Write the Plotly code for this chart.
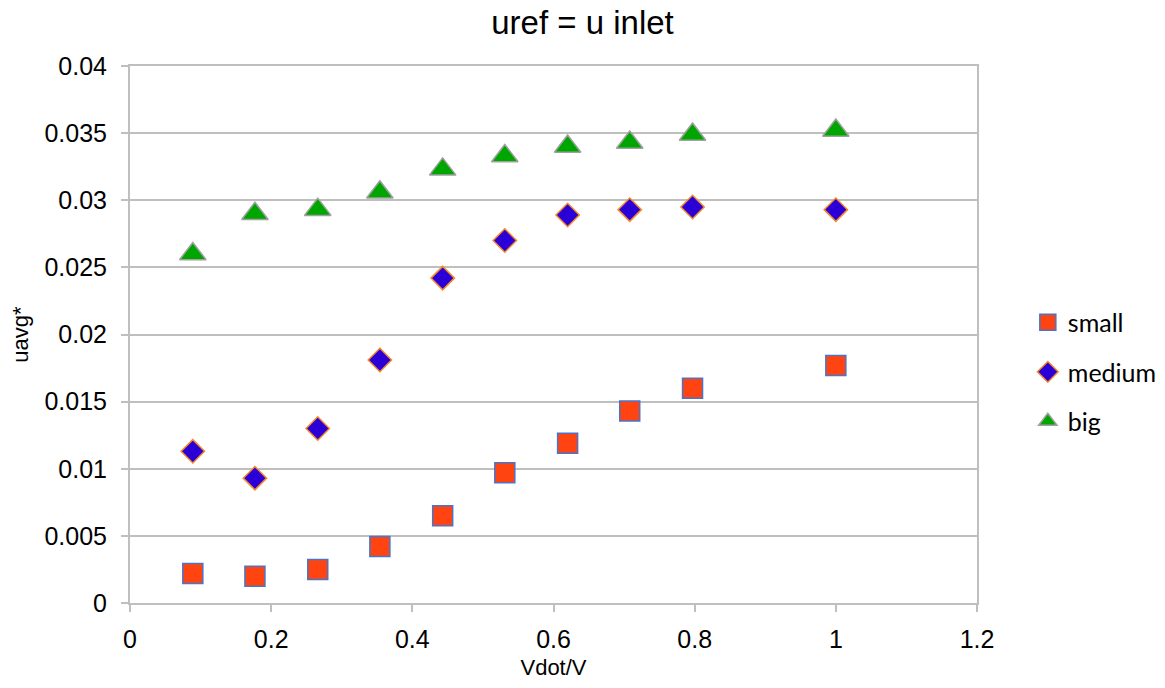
import plotly.graph_objects as go

# Flow-rate ratio on the horizontal axis
vdot_ratio = [0.089, 0.177, 0.266, 0.354, 0.443, 0.531, 0.620, 0.708, 0.797, 1.0]

# Averaged velocity for each geometry size
uavg_small = [0.0022, 0.0020, 0.0025, 0.0042, 0.0065, 0.0097, 0.0119, 0.0143, 0.0160, 0.0177]
uavg_medium = [0.0113, 0.0093, 0.0130, 0.0181, 0.0242, 0.0270, 0.0289, 0.0293, 0.0295, 0.0293]
uavg_big = [0.0260, 0.0290, 0.0293, 0.0306, 0.0323, 0.0333, 0.0340, 0.0343, 0.0349, 0.0352]

series_names = ["small", "medium", "big"]

x_ticks = [0, 0.2, 0.4, 0.6, 0.8, 1, 1.2]
x_tick_text = ["0", "0.2", "0.4", "0.6", "0.8", "1", "1.2"]
y_ticks = [0, 0.005, 0.01, 0.015, 0.02, 0.025, 0.03, 0.035, 0.04]
y_tick_text = ["0", "0.005", "0.01", "0.015", "0.02", "0.025", "0.03", "0.035", "0.04"]

GRID = "#BFBFBF"
AXIS_FONT = "Liberation Sans, Arial, sans-serif"

fig = go.Figure()

fig.add_trace(go.Scatter(
    x=vdot_ratio, y=uavg_small, name=series_names[0], mode="markers",
    legendgroup="s",
    marker=dict(symbol="square", size=20, color="#FF4412",
                line=dict(color="#4A74C8", width=1.5)),
))
fig.add_trace(go.Scatter(
    x=vdot_ratio, y=uavg_medium, name=series_names[1], mode="markers",
    legendgroup="m",
    marker=dict(symbol="diamond", size=18, color="#2A00D6",
                line=dict(color="#F58A2C", width=1.5)),
))
fig.add_trace(go.Scatter(
    x=vdot_ratio, y=uavg_big, name=series_names[2], mode="markers",
    legendgroup="b",
    marker=dict(symbol="triangle-up", size=23, color="#00A600",
                line=dict(color="#A0A0A0", width=1.5)),
))

fig.update_layout(
    width=1165, height=688,
    margin=dict(l=130, r=188, t=66, b=85, autoexpand=False),
    paper_bgcolor="white", plot_bgcolor="white",
    title=dict(text="uref = u inlet", x=0.5, xref="container", xanchor="center",
               y=1 - 22 / 688, yref="container", yanchor="middle",
               font=dict(family=AXIS_FONT, size=33, color="#000000")),
    font=dict(family=AXIS_FONT, color="#000000"),
    showlegend=True,
    legend=dict(x=1.06, xref="paper", xanchor="left",
                y=0.43, yanchor="middle",
                traceorder="grouped", tracegroupgap=14,
                font=dict(family="Lato, Carlito, sans-serif", size=25, color="#000000"),
                itemwidth=30, bgcolor="rgba(0,0,0,0)"),
)

fig.update_xaxes(
    range=[0, 1.2], tickvals=x_ticks, ticktext=x_tick_text,
    showgrid=False, zeroline=False,
    showline=True, linecolor=GRID, linewidth=2, mirror=True,
    ticks="outside", ticklen=7, tickcolor=GRID, tickwidth=2,
    tickfont=dict(family=AXIS_FONT, size=25, color="#000000"),
    ticklabelstandoff=6,
    title=dict(text="Vdot/V", font=dict(family=AXIS_FONT, size=22, color="#000000"),
               standoff=8),
    automargin=False,
)
fig.update_yaxes(
    range=[0, 0.04], tickvals=y_ticks, ticktext=y_tick_text,
    showgrid=True, gridcolor=GRID, gridwidth=2, zeroline=False,
    showline=True, linecolor=GRID, linewidth=2, mirror=True,
    ticks="outside", ticklen=7, tickcolor=GRID, tickwidth=2,
    tickfont=dict(family=AXIS_FONT, size=25, color="#000000"),
    ticklabelstandoff=9,
    title=dict(text="uavg*", font=dict(family=AXIS_FONT, size=22, color="#000000"),
               standoff=10),
    automargin=True,
)

fig.write_html("out.html")
